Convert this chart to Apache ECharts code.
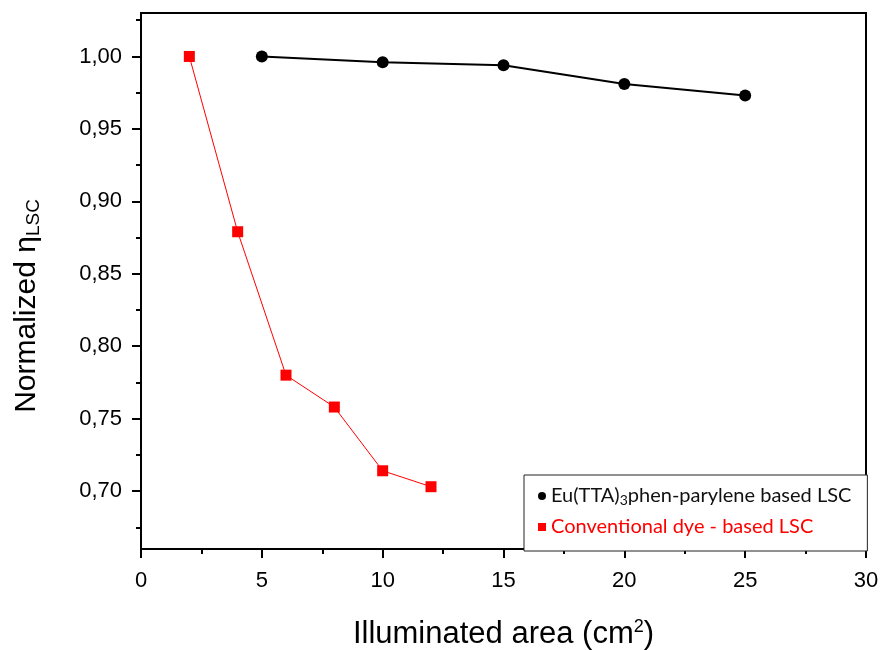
<!DOCTYPE html>
<html>
<head>
<meta charset="utf-8">
<script src="https://cdn.jsdelivr.net/npm/echarts@6/dist/echarts.min.js"></script>
<style>
  html, body { margin: 0; padding: 0; background: #fff; }
  #chart { width: 883px; height: 650px; }
</style>
</head>
<body>
<div id="chart"></div>
<script>
// data
var euName = 'Eu(TTA)3phen-parylene based LSC';
var dyeName = 'Conventional dye - based LSC';
var euX = [5, 10, 15, 20, 25];
var euY = [1.000, 0.996, 0.994, 0.981, 0.973];
var dyeX = [2, 4, 6, 8, 10, 12];
var dyeY = [1.000, 0.879, 0.780, 0.758, 0.714, 0.703];

// y ticks
var yMajor = [0.70, 0.75, 0.80, 0.85, 0.90, 0.95, 1.00];
var yMinor = [0.675, 0.725, 0.775, 0.825, 0.875, 0.925, 0.975, 1.025];

var pairs = function(xs, ys) {
    var out = [];
    for (var i = 0; i < xs.length; i++) {
        out.push([xs[i], ys[i]]);
    }
    return out;
};

var myChart = echarts.init(document.getElementById('chart'));
var axisFont = 'Liberation Sans, Arial, sans-serif';

// one extra y axis per tick size, all on the left edge
var tickAxis = function(values, len) {
    return {
        type: 'value',
        position: 'left',
        min: 0.66, max: 1.03,
        axisLine: {show: false},
        axisTick: {show: true, length: len, customValues: values, lineStyle: {color: '#000', width: 2}},
        axisLabel: {show: false, customValues: values},
        splitLine: {show: false}
    };
};

var option = {
    animation: false,
    backgroundColor: '#fff',
    grid: {
        left: 141, right: 17, top: 13, bottom: 101,
        outerBoundsMode: 'none',
        show: true, borderColor: '#000', borderWidth: 2
    },
    legend: {
        orient: 'vertical',
        left: 524, top: 475,
        padding: [11, 16, 14, 14],
        itemGap: 10,
        itemWidth: 8, itemHeight: 8,
        backgroundColor: '#fff',
        borderColor: '#222', borderWidth: 1,
        data: [
            {name: euName, icon: 'circle', textStyle: {color: '#111'}},
            {name: dyeName, icon: 'rect', textStyle: {color: '#ff0000'}}
        ],
        formatter: function(name) {
            return name.replace('TTA)3', 'TTA){sub|3}');
        },
        textStyle: {
            fontFamily: 'Lato, sans-serif',
            fontSize: 20,
            rich: {
                sub: {fontFamily: 'Lato, sans-serif', fontSize: 14, padding: [8, 0, 0, 0], color: '#111'}
            }
        }
    },
    xAxis: {
        type: 'value',
        min: 0, max: 30, interval: 5,
        name: 'Illuminated area (cm{sup|2})',
        nameLocation: 'middle',
        nameGap: 69,
        nameTextStyle: {
            fontFamily: axisFont, fontSize: 31, color: '#000',
            rich: {sup: {fontFamily: axisFont, fontSize: 18, color: '#000', padding: [0, 0, 15, 0]}}
        },
        axisLine: {lineStyle: {color: '#000', width: 2}},
        axisTick: {length: 9, lineStyle: {color: '#000', width: 2}},
        minorTick: {show: true, splitNumber: 2, length: 5, lineStyle: {color: '#000', width: 2}},
        axisLabel: {fontFamily: axisFont, fontSize: 22, color: '#000', margin: 21},
        splitLine: {show: false}
    },
    yAxis: [{
        type: 'value',
        min: 0.66, max: 1.03,
        name: 'Normalized η{sub|LSC}',
        nameLocation: 'middle',
        nameGap: 98,
        nameTextStyle: {
            fontFamily: axisFont, fontSize: 30, color: '#000',
            padding: [0, 50, 0, 0],
            rich: {sub: {fontFamily: axisFont, fontSize: 19, color: '#000', padding: [13, 0, 0, 0]}}
        },
        axisLine: {show: true, lineStyle: {color: '#000', width: 2}},
        axisTick: {show: false},
        axisLabel: {
            fontFamily: axisFont, fontSize: 22, color: '#000', margin: 19,
            customValues: yMajor,
            formatter: function(v) { return v.toFixed(2).replace('.', ','); }
        },
        splitLine: {show: false}
    }, tickAxis(yMajor, 9), tickAxis(yMinor, 5)],
    series: [{
        name: euName,
        type: 'line',
        data: pairs(euX, euY),
        symbol: 'circle',
        symbolSize: 12,
        itemStyle: {color: '#000'},
        lineStyle: {color: '#000', width: 2}
    }, {
        name: dyeName,
        type: 'line',
        data: pairs(dyeX, dyeY),
        symbol: 'rect',
        symbolSize: 11,
        itemStyle: {color: '#ff0000'},
        lineStyle: {color: '#ff0000', width: 1}
    }]
};

myChart.setOption(option);
</script>
</body>
</html>
